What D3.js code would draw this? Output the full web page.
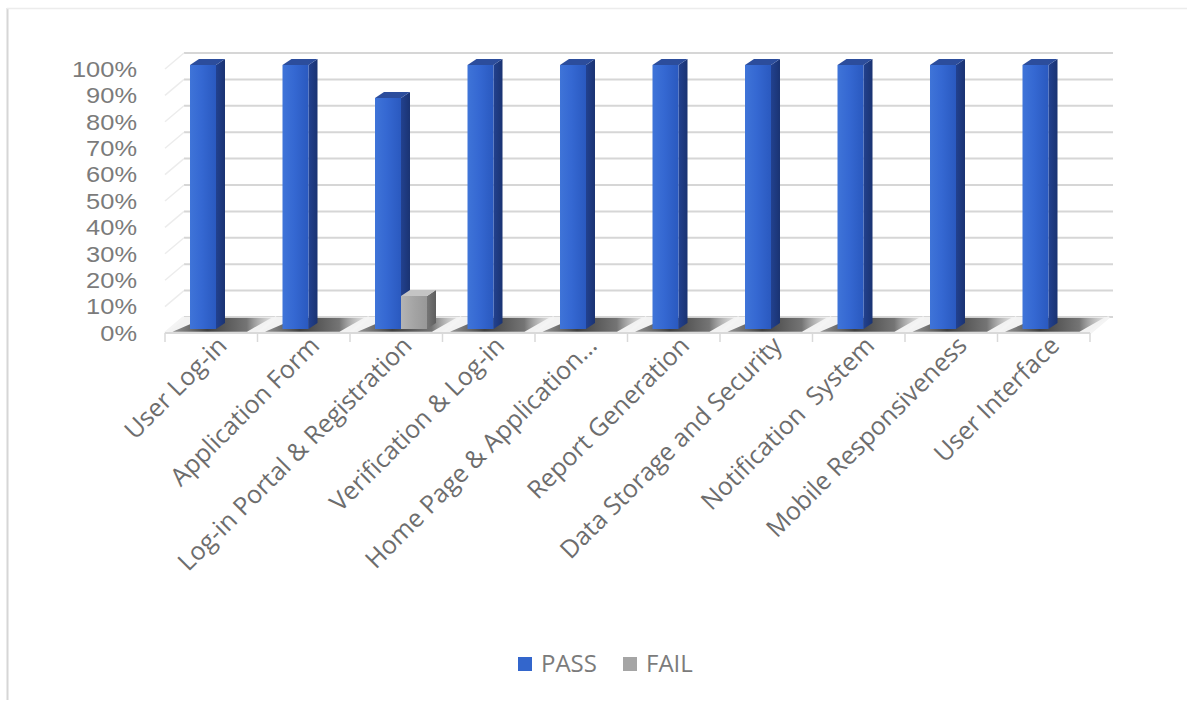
<!DOCTYPE html>
<html>
<head>
<meta charset="utf-8">
<script src="https://cdn.jsdelivr.net/npm/d3@7"></script>
<style>
html,body{margin:0;padding:0;background:#fff;}
svg{display:block;font-family:"Open Sans","Noto Sans",sans-serif;}
</style>
</head>
<body>
<svg id="chart" width="1187" height="703"></svg>
<script>
const categories = ["User Log-in","Application Form","Log-in Portal & Registration","Verification & Log-in","Home Page & Application...","Report Generation","Data Storage and Security","Notification  System","Mobile Responsiveness","User Interface"];
const passValues = [100,100,87.5,100,100,100,100,100,100,100];
const failValues = [0,0,12.5,0,0,0,0,0,0,0];
const yTicks = [0,10,20,30,40,50,60,70,80,90,100];
const seriesNames = ["PASS","FAIL"];

const svg = d3.select("#chart");
const defs = svg.append("defs");

// frame
svg.append("line").attr("x1",7.5).attr("y1",8).attr("x2",7.5).attr("y2",700).attr("stroke","#d6d6d6").attr("stroke-width",2);
svg.append("line").attr("x1",7).attr("y1",8.5).attr("x2",1187).attr("y2",8.5).attr("stroke","#ececec").attr("stroke-width",1.5);

const x = d3.scaleBand().domain(categories).range([165,1090]);
const y = d3.scaleLinear().domain([0,100]).range([333,69]);
const DX = 19, DY = -16; // depth vector
const P = (xv, yv, d) => [xv + DX*d, y(yv) + DY*d];
const pts = arr => arr.map(p => p.join(",")).join(" ");

function lg(id, stops){
  const g = defs.append("linearGradient").attr("id",id).attr("x1","0%").attr("y1","0%").attr("x2","100%").attr("y2","0%");
  stops.forEach(s => g.append("stop").attr("offset",s[0]).attr("stop-color",s[1]).attr("stop-opacity", s[2]==null?1:s[2]));
}
lg("blueFront",[["0%","#3f74d8"],["45%","#3568d2"],["100%","#2a59bf"]]);
lg("blueSide",[["0%","#22418f"],["100%","#1a3372"]]);
lg("grayFront",[["0%","#b4b4b4"],["50%","#a4a4a4"],["100%","#989898"]]);
lg("graySide",[["0%","#767676"],["100%","#5e5e5e"]]);
lg("shadow",[["0%","#6a6a6a",0.7],["35%","#2b2b2b",0.9],["75%","#555",0.8],["100%","#bdbdbd",0.4]]);

const grid = svg.append("g");
yTicks.forEach(t => {
  const a = P(165,t,1), b = P(1090,t,1);
  grid.append("line").attr("x1",a[0]).attr("y1",a[1]).attr("x2",b[0]+4).attr("y2",b[1])
    .attr("stroke","#d6d6d6").attr("stroke-width",2);
  const c = P(165,t,0);
  grid.append("line").attr("x1",c[0]).attr("y1",c[1]).attr("x2",a[0]).attr("y2",a[1])
    .attr("stroke","#ececec").attr("stroke-width",1.5);
});

// floor
const floor = svg.append("g");
floor.append("polygon").attr("points",pts([P(165,0,0),P(1090,0,0),P(1090,0,1),P(165,0,1)])).attr("fill","#f2f2f2");
categories.forEach(c => {
  const x0 = x(c), w = x.bandwidth();
  floor.append("polygon")
    .attr("points",pts([P(x0+6,0,0.08),P(x0+w-12,0,0.08),P(x0+w-4,0,0.95),P(x0+22,0,0.95)]))
    .attr("fill","url(#shadow)");
});
for (let i = 0; i <= categories.length; i++) {
  const bx = 165 + i*x.bandwidth();
  const a = P(bx,0,0), b = P(bx,0,1);
  floor.append("line").attr("x1",a[0]).attr("y1",a[1]).attr("x2",b[0]).attr("y2",b[1]).attr("stroke","#f4f4f4").attr("stroke-width",2.5);
  floor.append("line").attr("x1",bx).attr("y1",y(0)).attr("x2",bx).attr("y2",y(0)+9).attr("stroke","#d9d9d9").attr("stroke-width",1.5);
}
floor.append("line").attr("x1",165).attr("y1",y(0)).attr("x2",1090).attr("y2",y(0)).attr("stroke","#d9d9d9").attr("stroke-width",2);

// bars
const bw = 26, dF = 0.25, sdx = 9, sdy = -6;
const bars = svg.append("g");
function drawBar(cx, v, front, side, top){
  if (v <= 0) return;
  const [xl, yt] = P(cx, v, dF);
  const [, yb] = P(cx, 0, dF);
  const xr = xl + bw;
  bars.append("polygon").attr("points",pts([[xr,yt],[xr+sdx,yt+sdy],[xr+sdx,yb+sdy],[xr,yb]])).attr("fill",side);
  bars.append("polygon").attr("points",pts([[xl,yt],[xl+sdx,yt+sdy],[xr+sdx,yt+sdy],[xr,yt]])).attr("fill",top);
  bars.append("rect").attr("x",xl).attr("y",yt).attr("width",bw).attr("height",yb-yt).attr("fill",front);
}
categories.forEach((c,i) => {
  const mid = x(c) + x.bandwidth()/2;
  drawBar(mid - bw, passValues[i], "url(#blueFront)", "url(#blueSide)", "#2c4d9c");
  drawBar(mid, failValues[i], "url(#grayFront)", "url(#graySide)", "#c4c4c4");
});

// y labels (slightly stretched horizontally, like the reference)
svg.append("g").selectAll("text").data(yTicks).join("text")
  .attr("transform",d => `translate(137,${y(d)}) scale(1.13,1)`)
  .attr("dy","0.35em")
  .attr("text-anchor","end").attr("fill","#7b7b7b").attr("font-size",22.5)
  .attr("font-family","'Liberation Sans',Arial,sans-serif")
  .text(d => d + "%");

// x labels
svg.append("g").selectAll("text").data(categories).join("text")
  .attr("transform",d => `translate(${x(d)+x.bandwidth()/2+11},${341}) rotate(-45)`)
  .attr("text-anchor","end").attr("dy","0.35em")
  .attr("fill","#6d6d6d").attr("font-size",25)
  .style("white-space","pre")
  .text(d => d);

// legend
const legend = svg.append("g");
const lx = [518, 623], lcol = ["#3366cc","#a5a5a5"];
seriesNames.forEach((s,i) => {
  legend.append("rect").attr("x",lx[i]).attr("y",657).attr("width",14).attr("height",14).attr("fill",lcol[i]);
  legend.append("text").attr("x",lx[i]+23).attr("y",664).attr("dy","0.35em").attr("fill","#7b7b7b").attr("font-size",24).text(s);
});
</script>
</body>
</html>
